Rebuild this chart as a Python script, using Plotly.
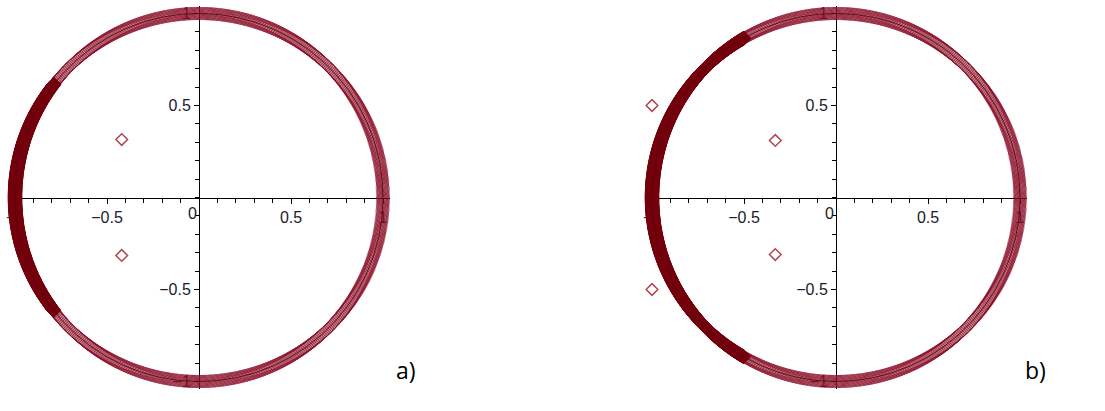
import numpy as np
import plotly.graph_objects as go

# --- data ---
panels = ["a)", "b)"]
# isolated eigenvalues (open diamonds)
pts_a_x = [-0.42, -0.42]
pts_a_y = [0.315, -0.315]
pts_b_x = [-1.0, -1.0, -0.33, -0.33]
pts_b_y = [0.5, -0.5, 0.31, -0.31]
# unit circle spectrum: sparse everywhere, dense on an arc (degrees)
ring_radius = 1.0
dense_arc_a = (142, 218)
dense_arc_b = (120, 240)
sparse_step_deg = 0.35
dense_step_deg = 0.08

x_ticks = [-1, -0.5, 0.5, 1]
y_ticks = [-1, -0.5, 0.5, 1]

W, H = 1105, 411
centers_px = [199, 836]
cy_px = 197.5
ppu = 184.0
half = 1.04

ring_col = "rgba(138,15,40,0.68)"
dense_col = "rgba(118,0,16,0.9)"
pt_col = "#b04656"


def ring(arc):
    t1 = np.deg2rad(np.arange(0, 360, sparse_step_deg))
    t2 = np.deg2rad(np.arange(arc[0], arc[1], dense_step_deg))
    return (ring_radius * np.cos(t1), ring_radius * np.sin(t1),
            ring_radius * np.cos(t2), ring_radius * np.sin(t2))


fig = go.Figure()
layout = {}
yd = [(H - (cy_px + half * ppu)) / H, (H - (cy_px - half * ppu)) / H]
for i, (arc, px, py) in enumerate([(dense_arc_a, pts_a_x, pts_a_y),
                                    (dense_arc_b, pts_b_x, pts_b_y)]):
    n = "" if i == 0 else str(i + 1)
    xa, ya = "x" + n, "y" + n
    sx, sy, dx, dy = ring(arc)
    fig.add_trace(go.Scatter(x=sx, y=sy, mode="markers", xaxis=xa, yaxis=ya,
                             cliponaxis=False, hoverinfo="skip",
                             marker=dict(symbol="diamond-open", size=10,
                                         color=ring_col, line=dict(width=1))))
    fig.add_trace(go.Scatter(x=dx, y=dy, mode="markers", xaxis=xa, yaxis=ya,
                             cliponaxis=False, hoverinfo="skip",
                             marker=dict(symbol="diamond-open", size=10,
                                         color=dense_col, line=dict(width=1.2))))
    t = np.deg2rad(np.arange(0, 361, 1.0))
    fig.add_trace(go.Scatter(x=np.cos(t), y=np.sin(t), mode="lines", xaxis=xa, yaxis=ya,
                             cliponaxis=False, hoverinfo="skip",
                             line=dict(color="rgba(95,0,15,0.85)", width=1)))
    fig.add_trace(go.Scatter(x=px, y=py, mode="markers", xaxis=xa, yaxis=ya,
                             marker=dict(symbol="diamond-open", size=9,
                                         color=pt_col, line=dict(width=1.5))))

    cx = centers_px[i]
    xd = [(cx - half * ppu) / W, (cx + half * ppu) / W]
    yc = (yd[0] + yd[1]) / 2
    common = dict(range=[-half, half], showgrid=False, zeroline=False, automargin=False,
                  showline=True, linecolor="black", linewidth=1,
                  ticks="outside", ticklen=5, tickcolor="black",
                  layer="below traces",
                  tickfont=dict(family="Liberation Sans", size=16, color="#1b1b2a"),
                  minor=dict(dtick=0.1, ticks="outside", ticklen=4, tickcolor="black"))
    layout["xaxis" + n] = dict(common, domain=xd, anchor="free", position=yc,
                               tickvals=x_ticks, ticktext=[f"{v:g}".replace("-", "\u2212") for v in x_ticks])
    layout["yaxis" + n] = dict(common, domain=yd, anchor="free", position=cx / W,
                               tickvals=y_ticks, ticktext=[f"{v:g}".replace("-", "\u2212") for v in y_ticks])

annotations = []
for i in range(2):
    n = "" if i == 0 else str(i + 1)
    annotations.append(dict(x=-0.035, y=-0.085, xref="x" + n, yref="y" + n, text="0",
                            showarrow=False, font=dict(family="Liberation Sans", size=16, color="#1b1b2a")))
annotations.append(dict(x=406 / W, y=(H - 388) / H, xref="paper", yref="paper", text=panels[0],
                        showarrow=False, font=dict(family="Open Sans", size=23, color="black")))
annotations.append(dict(x=1048 / W, y=(H - 388) / H, xref="paper", yref="paper", text=panels[1],
                        showarrow=False, font=dict(family="Open Sans", size=23, color="black")))

fig.update_layout(width=W, height=H, margin=dict(l=0, r=0, t=0, b=0, autoexpand=False),
                  plot_bgcolor="white", paper_bgcolor="white", showlegend=False,
                  annotations=annotations, **layout)
fig.write_html("out.html", config={"displayModeBar": False},
               post_script="document.body.style.margin='0';")
